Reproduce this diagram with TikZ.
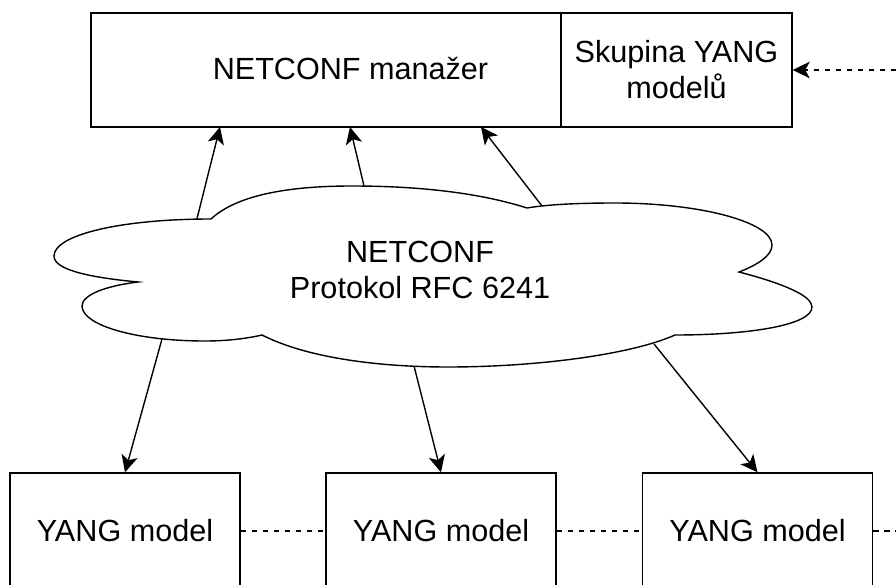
\documentclass[tikz,border=0pt]{standalone}
\usepackage{fontspec}
\setmainfont{Liberation Sans}
\usetikzlibrary{arrows.meta}
\tikzset{
  box/.style={draw=black,line width=1.4pt,fill=white,rectangle,inner sep=0pt,align=center,font=\fontsize{30.6}{36}\selectfont},
  plain/.style={inner sep=0pt,align=center,font=\fontsize{30.6}{36}\selectfont},
  flow/.style={draw=black,line width=1.4pt,-{Stealth[length=17pt,width=16.5pt,inset=4.5pt]}},
  link/.style={draw=black,line width=1.4pt,dash pattern=on 5.5pt off 5.5pt},
  cloudline/.style={draw=black,line width=1.4pt,fill=white,line join=miter}
}
\begin{document}
\begin{tikzpicture}[x=1pt,y=-1pt]
\useasboundingbox (0,0) rectangle (896,585);
\clip (0,0) rectangle (896,585);
\fill[white] (0,0) rectangle (896,585);
% top boxes
\node[box,minimum width=470pt,minimum height=114pt] (mgr) at (326,70) {};
\node[box,minimum width=231pt,minimum height=114pt] (grp) at (676.5,70) {Skupina YANG\\modelů};
\node[plain] (mgrlabel) at (350.5,69) {NETCONF manažer};
% bottom boxes
\node[box,minimum width=230pt,minimum height=116pt] (y1) at (125,531) {YANG model};
\node[box,minimum width=230pt,minimum height=116pt] (y2) at (441,531) {YANG model};
\node[box,minimum width=230pt,minimum height=116pt] (y3) at (757.5,531) {YANG model};
% free ends
\coordinate (freeA) at (896,70);
\coordinate (freeB) at (896,531);
% cloud anchor points
\coordinate (c1) at (197,218.6);
\coordinate (c2) at (364,186);
\coordinate (c3) at (542,206);
\coordinate (c4) at (162,339);
\coordinate (c5) at (414,366);
\coordinate (c6) at (654,344);
\coordinate (t1) at (220,127);
\coordinate (t2) at (350,127);
\coordinate (t3) at (481,127);
% connectors below the cloud
\draw[flow] (c1) -- (t1);
\draw[flow] (c2) -- (t2);
\draw[flow] (c3) -- (t3);
\draw[flow] (c4) -- (y1.north);
\draw[flow] (c5) -- (y2.north);
\draw[flow] (c6) -- (y3.north);
\draw[link] (y1.east) -- (y2.west);
\draw[link] (y2.east) -- (y3.west);
\draw[link] (y3.east) -- (freeB);
\draw[flow,dash pattern=on 5.5pt off 5.5pt] (freeA) -- (grp.east);
% cloud
\path[cloudline] (211,219)
  .. controls (240,192) and (300,186) .. (352,186)
  .. controls (420,186) and (480,193) .. (527,208)
  .. controls (550,204) and (585,203) .. (615,203)
  .. controls (700,203) and (772,222) .. (772,245)
  .. controls (772,256) and (757,265) .. (739,272)
  .. controls (785,284) and (812,296) .. (812,307)
  .. controls (812,325) and (750,335) .. (675,335)
  .. controls (630,355) and (535,367) .. (448,367)
  .. controls (375,367) and (305,357) .. (262,335)
  .. controls (245,339) and (225,341) .. (205,341)
  .. controls (135,341) and (82,325) .. (82,306)
  .. controls (82,295) and (105,286) .. (138,282)
  .. controls (85,277) and (54,269) .. (54,256)
  .. controls (54,235) and (120,219) .. (211,219)
  -- cycle;
\node[plain] (cloudtext) at (420,270) {NETCONF\\Protokol RFC 6241};
\end{tikzpicture}
\end{document}
